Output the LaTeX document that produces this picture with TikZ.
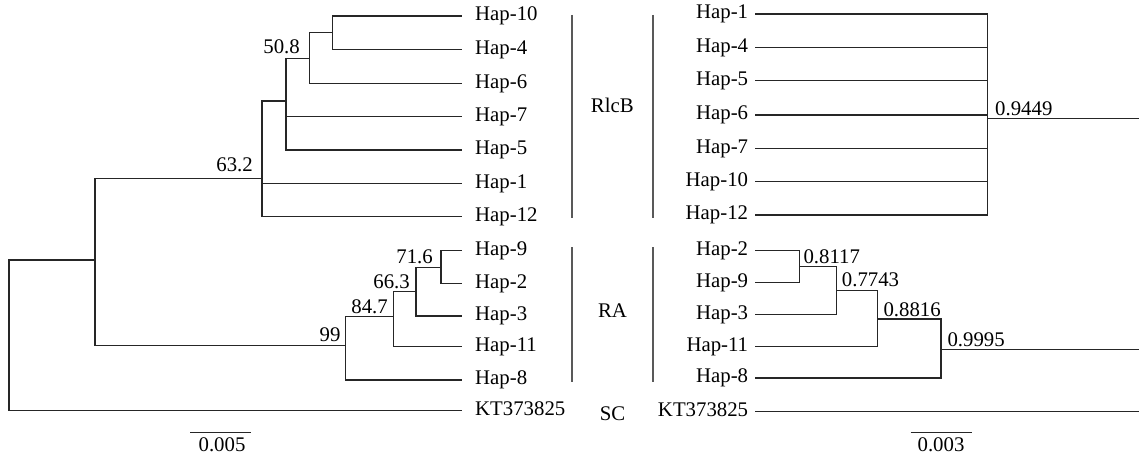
\documentclass[tikz,border=0pt]{standalone}
\usepackage{fontspec}
\setmainfont{Liberation Serif}
\usetikzlibrary{calc}
\begin{document}
\begin{tikzpicture}[x=1pt,y=-1pt,
  br/.style={draw=black!85,line width=1.2pt,line cap=rect},
  grpbar/.style={draw=black!65,line width=2pt},
  lab/.style={font=\fontsize{20.8}{24}\selectfont,inner sep=0pt},
  leafL/.style={lab,anchor=west,inner xsep=13.3pt,inner ysep=0pt,text height=14pt,text depth=4.5pt},
  leafR/.style={lab,anchor=east,inner xsep=7.7pt,inner ysep=0pt,text height=14pt,text depth=4.5pt},
  bootL/.style={lab,anchor=base east},
  bootR/.style={lab,anchor=base west},
  grp/.style={lab,anchor=base},
]
\useasboundingbox (0,0) rectangle (1139,454);

% ---------- left tree: leaves ----------
\node[leafL] (L10) at (461.7,16) {Hap-10};
\node[leafL] (L4)  at (461.7,49.3) {Hap-4};
\node[leafL] (L6)  at (461.7,83.3) {Hap-6};
\node[leafL] (L7)  at (461.7,116.7) {Hap-7};
\node[leafL] (L5)  at (461.7,150) {Hap-5};
\node[leafL] (L1)  at (461.7,183.3) {Hap-1};
\node[leafL] (L12) at (461.7,216.7) {Hap-12};
\node[leafL] (L9)  at (461.7,250.7) {Hap-9};
\node[leafL] (L2)  at (461.7,283.3) {Hap-2};
\node[leafL] (L3)  at (461.7,316) {Hap-3};
\node[leafL] (L11) at (461.7,346.7) {Hap-11};
\node[leafL] (L8)  at (461.7,380) {Hap-8};
\node[leafL] (LKT) at (461.7,410.7) {KT373825};

% ---------- left tree: internal nodes ----------
\coordinate (n1) at (332.7,32.7);
\coordinate (n2) at (309.7,58.7);
\coordinate (n3) at (286,101);
\coordinate (n4) at (262,178.3);
\coordinate (n5) at (441,267.3);
\coordinate (n6) at (416,291.7);
\coordinate (n7) at (393.3,316.7);
\coordinate (n8) at (345.7,345.7);
\coordinate (n9) at (95,260);
\coordinate (n0) at (9,335);

\draw[br] (n1) |- (L10);
\draw[br] (n1) |- (L4);
\draw[br] (n2) |- (n1);
\draw[br] (n2) |- (L6);
\draw[br] (n3) |- (n2);
\draw[br] (n3) |- (L7);
\draw[br] (n3) |- (L5);
\draw[br] (n4) |- (n3);
\draw[br] (n4) |- (L1);
\draw[br] (n4) |- (L12);
\draw[br] (n5) |- (L9);
\draw[br] (n5) |- (L2);
\draw[br] (n6) |- (n5);
\draw[br] (n6) |- (L3);
\draw[br] (n7) |- (n6);
\draw[br] (n7) |- (L11);
\draw[br] (n8) |- (n7);
\draw[br] (n8) |- (L8);
\draw[br] (n9) |- (n4);
\draw[br] (n9) |- (n8);
\draw[br] (n0) |- (n9);
\draw[br] (n0) |- (LKT);

% bootstrap values
\node[bootL] (b508) at (300,54) {50.8};
\node[bootL] (b632) at (253,172) {63.2};
\node[bootL] (b716) at (433,263) {71.6};
\node[bootL] (b663) at (410,288) {66.3};
\node[bootL] (b847) at (388,313) {84.7};
\node[bootL] (b99)  at (340.7,341) {99};

% ---------- right tree: leaves ----------
\node[leafR] (R1)  at (756,14) {Hap-1};
\node[leafR] (R4)  at (756,47.3) {Hap-4};
\node[leafR] (R5)  at (756,80.7) {Hap-5};
\node[leafR] (R6)  at (756,115) {Hap-6};
\node[leafR] (R7)  at (756,148.3) {Hap-7};
\node[leafR] (R10) at (756,181.7) {Hap-10};
\node[leafR] (R12) at (756,215) {Hap-12};
\node[leafR] (R2)  at (756,250.7) {Hap-2};
\node[leafR] (R9)  at (756,282.3) {Hap-9};
\node[leafR] (R3)  at (756,314.3) {Hap-3};
\node[leafR] (R11) at (756,346.7) {Hap-11};
\node[leafR] (R8)  at (756,378) {Hap-8};
\node[leafR] (RKT) at (756,411.7) {KT373825};

\coordinate (rA)  at (987.5,118.5);
\coordinate (rAe) at (1139,118.5);
\coordinate (rB)  at (799.3,266.2);
\coordinate (rC)  at (836.7,290.5);
\coordinate (rD)  at (877.7,319);
\coordinate (rE)  at (941,349.5);
\coordinate (rEe) at (1139,349.5);
\coordinate (rKTe) at (1139,411.7);

\draw[br] (R1) -| (rA);
\draw[br] (R4) -| (rA);
\draw[br] (R5) -| (rA);
\draw[br] (R6) -| (rA);
\draw[br] (R7) -| (rA);
\draw[br] (R10) -| (rA);
\draw[br] (R12) -| (rA);
\draw[br] (rA) -- (rAe);
\draw[br] (R2) -| (rB);
\draw[br] (R9) -| (rB);
\draw[br] (rB) -| (rC);
\draw[br] (R3) -| (rC);
\draw[br] (rC) -| (rD);
\draw[br] (R11) -| (rD);
\draw[br] (rD) -| (rE);
\draw[br] (R8) -| (rE);
\draw[br] (rE) -- (rEe);
\draw[br] (RKT) -- (rKTe);

% posterior probabilities
\node[bootR] (p9449) at (995,115.7) {0.9449};
\node[bootR] (p8117) at (803.3,263.3) {0.8117};
\node[bootR] (p7743) at (841.7,286.7) {0.7743};
\node[bootR] (p8816) at (883.3,316) {0.8816};
\node[bootR] (p9995) at (947.3,346) {0.9995};

% ---------- group labels and bars ----------
\draw[grpbar] (571.7,15) -- (571.7,218.3);
\draw[grpbar] (653.3,15) -- (653.3,218.3);
\draw[grpbar] (571.7,247.3) -- (571.7,382.3);
\draw[grpbar] (653.3,247.3) -- (653.3,382.3);
\node[grp] (gR) at (612.3,112.7) {RlcB};
\node[grp] (gA) at (612.5,317.3) {RA};
\node[grp] (gS) at (612.5,420) {SC};

% ---------- scale bars ----------
\draw[br,line cap=butt] (190,432.3) -- (250.7,432.3);
\node[grp] (s1) at (222,451.7) {0.005};
\draw[br,line cap=butt] (910.7,432.3) -- (971.7,432.3);
\node[grp] (s2) at (941,451.7) {0.003};
\end{tikzpicture}
\end{document}
